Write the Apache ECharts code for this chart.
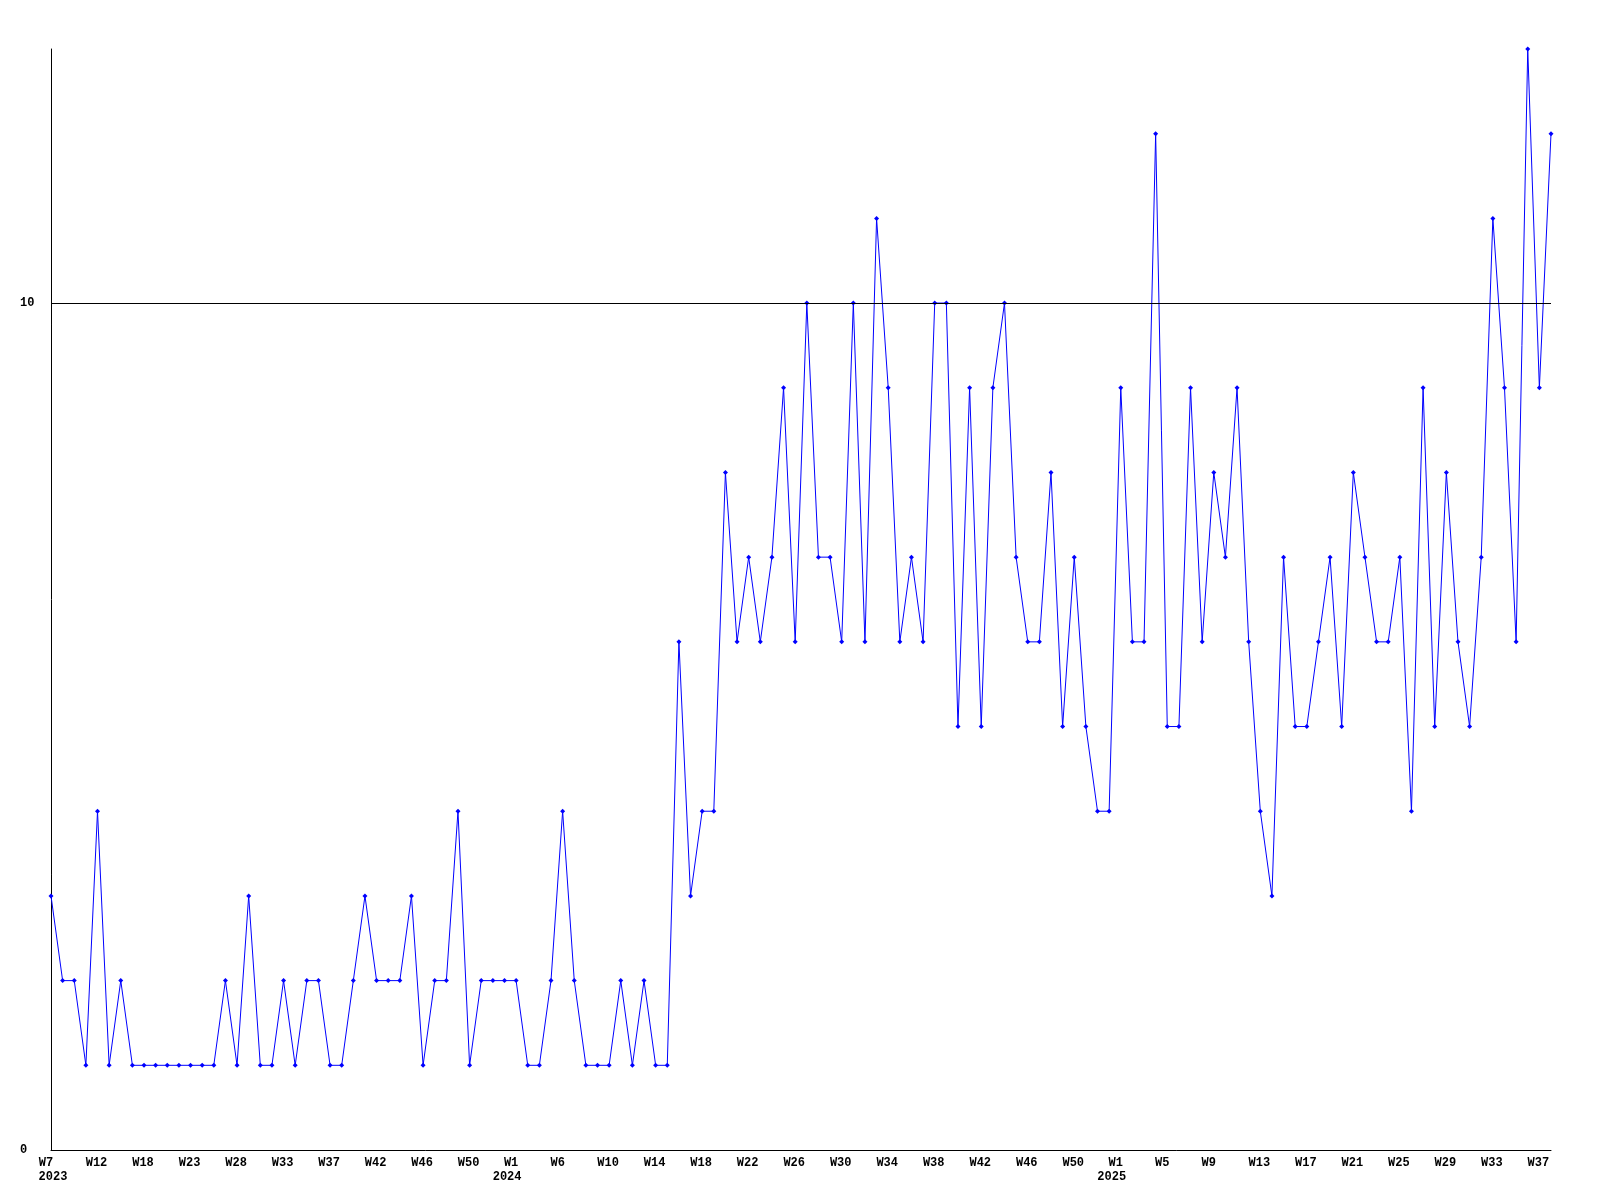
<!DOCTYPE html>
<html>
<head>
<meta charset="utf-8">
<script src="https://cdn.jsdelivr.net/npm/echarts@6/dist/echarts.min.js"></script>
<style>
html,body{margin:0;padding:0;background:#fff;}
#chart{width:1600px;height:1200px;}
</style>
</head>
<body>
<div id="chart"></div>
<script>
// Week categories (year-week)
const weeks2023 = [7,8,9,11,12,13,15,16,18,19,20,21,23,24,25,26,28,29,30,31,33,34,35,36,37,38,39,41,42,43,44,45,46,47,48,49,50,51,52,53];
const weeks2024 = [1,2,3,5,6,7,8,9,10,11,12,13,14,15,16,17,18,19,20,21,22,23,24,25,26,27,28,29,30,31,32,33,34,35,36,37,38,39,40,41,42,43,44,45,46,47,48,49,50,51,52,53];
const weeks2025 = [1,2,3,4,5,6,7,8,9,10,11,12,13,14,15,16,17,18,19,20,21,22,23,24,25,26,27,28,29,30,31,32,33,34,35,36,37,38];

// Weekly counts
const values = [
  3,2,2,1,4,1,2,1,1,1,1,1,1,1,1,2,1,3,1,1,2,1,2,2,1,1,2,3,2,2,2,3,1,2,2,4,1,2,2,2,
  2,1,1,2,4,2,1,1,1,2,1,2,1,1,6,3,4,4,8,6,7,6,7,9,6,10,7,7,6,10,6,11,9,6,7,6,10,10,5,9,5,9,10,7,6,6,8,5,7,5,4,4,
  9,6,6,12,5,5,9,6,8,7,9,6,4,3,7,5,5,6,7,5,8,7,6,6,7,4,9,5,8,6,5,7,11,9,6,13,9,12
];

const yTickLabels = [0, 10];
const referenceLine = 10;

const categories = []
  .concat(weeks2023.map(w => '2023-W' + w))
  .concat(weeks2024.map(w => '2024-W' + w))
  .concat(weeks2025.map(w => '2025-W' + w));

const chart = echarts.init(document.getElementById('chart'), null, {renderer: 'canvas'});
const fontFamily = '"Liberation Mono", "DejaVu Sans Mono", monospace';
const font = {fontFamily: fontFamily, fontWeight: 'bold', fontSize: 12, color: '#000'};
function rs(pad) { return Object.assign({}, font, {lineHeight: 14, padding: pad}); }

chart.setOption({
  animation: false,
  backgroundColor: '#fff',
  grid: {left: 51, right: 49, top: 49, bottom: 50, containLabel: false},
  xAxis: {
    type: 'category',
    data: categories,
    boundaryGap: false,
    axisLine: {show: true, lineStyle: {color: '#000', width: 1}},
    axisTick: {show: false},
    splitLine: {show: false},
    axisLabel: Object.assign({}, font, {
      interval: 3,
      margin: 6,
      lineHeight: 14,
      rich: {
        w2: rs([0, 10, 0, 0]),
        w3: rs([0, 2, 0, 0]),
        y: rs([0, 18, 0, 0]),
        y0: rs([0, 0, 0, 4])
      },
      formatter: function (val, idx) {
        const parts = val.split('-');
        const wk = parts[1];
        const ws = (wk.length <= 2 ? '{w2|' : '{w3|') + wk + '}';
        const prev = idx > 0 ? categories[idx - 1].split('-')[0] : null;
        if (prev !== parts[0]) {
          return ws + '\n' + (idx === 0 ? '{y0|' : '{y|') + parts[0] + '}';
        }
        return ws;
      }
    })
  },
  yAxis: {
    type: 'value',
    min: 0,
    max: 13,
    interval: 10,
    axisLine: {show: true, lineStyle: {color: '#000', width: 1}},
    axisTick: {show: false},
    splitLine: {show: false},
    axisLabel: Object.assign({}, font, {
      align: 'left',
      margin: 31,
      formatter: function (v) { return yTickLabels.indexOf(v) >= 0 ? String(v) : ''; }
    })
  },
  series: [{
    type: 'line',
    data: values,
    symbol: 'diamond',
    symbolSize: 5,
    showAllSymbol: true,
    lineStyle: {color: '#0000ff', width: 1},
    itemStyle: {color: '#0000ff'},
    markLine: {
      silent: true,
      symbol: 'none',
      label: {show: false},
      lineStyle: {color: '#000', width: 1, type: 'solid'},
      data: [{yAxis: referenceLine}]
    }
  }]
});
</script>
</body>
</html>
